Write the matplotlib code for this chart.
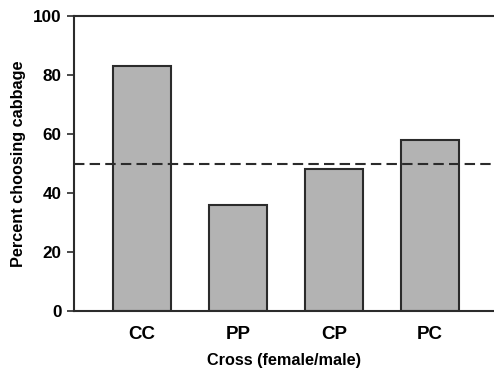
import matplotlib
matplotlib.use('Agg')
import matplotlib.pyplot as plt

# data
crosses = ['CC', 'PP', 'CP', 'PC']
percent_cabbage = [83, 36, 48, 58]
chance_level = 50
yticks = [0, 20, 40, 60, 80, 100]

plt.rcParams['font.family'] = ['Liberation Sans', 'DejaVu Sans']
plt.rcParams['font.weight'] = 'bold'

fig = plt.figure(figsize=(4.94, 3.72), dpi=100)
ax = fig.add_axes([74 / 494, 1 - 311 / 372, 1 - 74 / 494, 295 / 372])

ax.bar(range(len(crosses)), percent_cabbage, width=0.6, color='#b3b3b3',
       edgecolor='#2b2b2b', linewidth=1.5, zorder=2)
ax.axhline(chance_level, color='#2b2b2b', linestyle=(0, (5, 2.5)), linewidth=1.5, zorder=3)

ax.set_xlim(-0.71, 3.67)
ax.set_ylim(0, 100)
ax.set_yticks(yticks)
ax.set_xticks(range(len(crosses)))
ax.set_xticklabels(crosses, fontsize=13.5, fontweight='bold')
ax.tick_params(axis='y', labelsize=12.3, length=5, width=1.2, color='#2b2b2b', pad=4)
ax.tick_params(axis='x', length=0, pad=11)

for side in ['left', 'bottom', 'top']:
    ax.spines[side].set_linewidth(1.5)
    ax.spines[side].set_color('#2b2b2b')
ax.spines['right'].set_visible(False)

ax.set_ylabel('Percent choosing cabbage', fontsize=11.7, fontweight='bold', labelpad=5)
ax.set_xlabel('Cross (female/male)', fontsize=11.7, fontweight='bold', labelpad=7)

fig.savefig('out.png', dpi=100)
plt.close(fig)
